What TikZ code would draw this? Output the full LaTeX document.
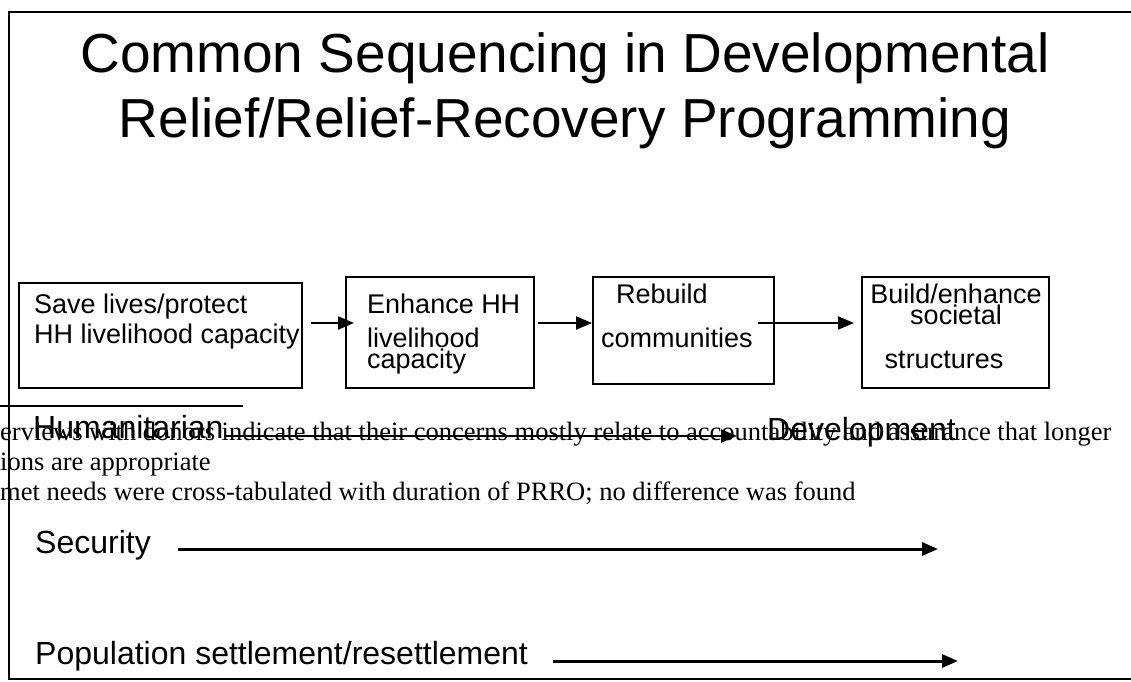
\documentclass[tikz,border=0pt]{standalone}
\usepackage{fontspec}
\setmainfont{Liberation Sans}
\newfontfamily\notefont{Liberation Serif}
\usetikzlibrary{arrows.meta,positioning}

\begin{document}
\begin{tikzpicture}[x=1pt, y=-1pt,
  box/.style = {draw, line width=2pt, inner sep=0pt, outer sep=0pt},
  txt/.style = {inner sep=0pt, font=\fontsize{27}{30}\selectfont},
  lab/.style = {inner sep=0pt, font=\fontsize{32}{38}\selectfont},
  note/.style = {inner sep=0pt, font=\notefont\fontsize{26.5}{30}\selectfont},
  arr/.style = {line width=2pt, -{Triangle[length=16pt,width=13pt]}},
  node distance={44pt}]
\useasboundingbox (0,0) rectangle (1131,681);
\node[note, anchor=base west] (n1) at (0,440) {erviews with donors indicate that their concerns mostly relate to accountability and assurance that longer};
\node[note, anchor=base west] (n2) at (0,470) {ions are appropriate};
\node[note, anchor=base west] (n3) at (0,500) {met needs were cross-tabulated with duration of PRRO; no difference was found};
\draw[line width=1.5pt] (1131,12) -| (9,679) -- (1131,679);
\node[align=center, inner sep=0pt, anchor=base, font=\fontsize{55}{65}\selectfont] (t) at (565,137) {Common Sequencing in Developmental\\Relief/Relief-Recovery Programming};
\node[box, minimum width=283pt, minimum height=105pt] (1) at (160.5,335.5) {};
\node[box, minimum width=188pt, minimum height=111pt, right=44pt of 1, yshift=3pt] (2) {};
\node[box, minimum width=181pt, minimum height=107pt, right=59pt of 2, yshift=2pt] (3) {};
\node[box, minimum width=187pt, minimum height=111pt, right=88pt of 3, yshift=-2pt] (4) {};
\node[txt, align=left, anchor=base west] (t1) at ([shift={(15,60)}]1.north west) {Save lives/protect\\HH livelihood capacity};
\node[txt, align=left, anchor=base west] (t2) at ([shift={(21,91)}]2.north west) {Enhance HH\\[4pt]livelihood\\[-9pt]capacity};
\node[txt, align=left, anchor=base west] (t3) at ([shift={(8,70)}]3.north west) {\hspace*{15pt}Rebuild\\[14pt]communities};
\node[txt, align=center, anchor=base] (t4) at ([shift={(94,91)}]4.north west) {Build/enhance\\[-9pt]societal\\[14pt]structures\hspace*{24pt}};
\draw[arr] ([shift={(9,-12.5)}]1.east) -- ([shift={(8,-9.5)}]2.west);
\draw[arr] ([shift={(4,-9.5)}]2.east) -- ([shift={(-1,-7.5)}]3.west);
\draw[arr] ([shift={(-16,-7.5)}]3.east) -- ([shift={(-8,-9.5)}]4.west);
\draw[line width=2pt] (0,406) -- (243,406);
\node[lab, anchor=base west] (h) at (33,438) {Humanitarian};
\node[lab, anchor=base west] (d) at (767,440) {Development};
\draw[arr, line width=2.5pt] ([yshift=2pt]h.base east) -- ([shift={(-30,-4)}]d.base west);
\node[lab, anchor=base west] (s) at (35,553) {Security};
\coordinate (se) at (938,549);
\draw[arr, line width=3pt] ([shift={(27,-4)}]s.base east) -- (se);
\node[lab, anchor=base west] (p) at (35,664) {Population settlement/resettlement};
\coordinate (pe) at (958,661);
\draw[arr, line width=3pt] ([shift={(25,-3)}]p.base east) -- (pe);
\end{tikzpicture}
\end{document}
